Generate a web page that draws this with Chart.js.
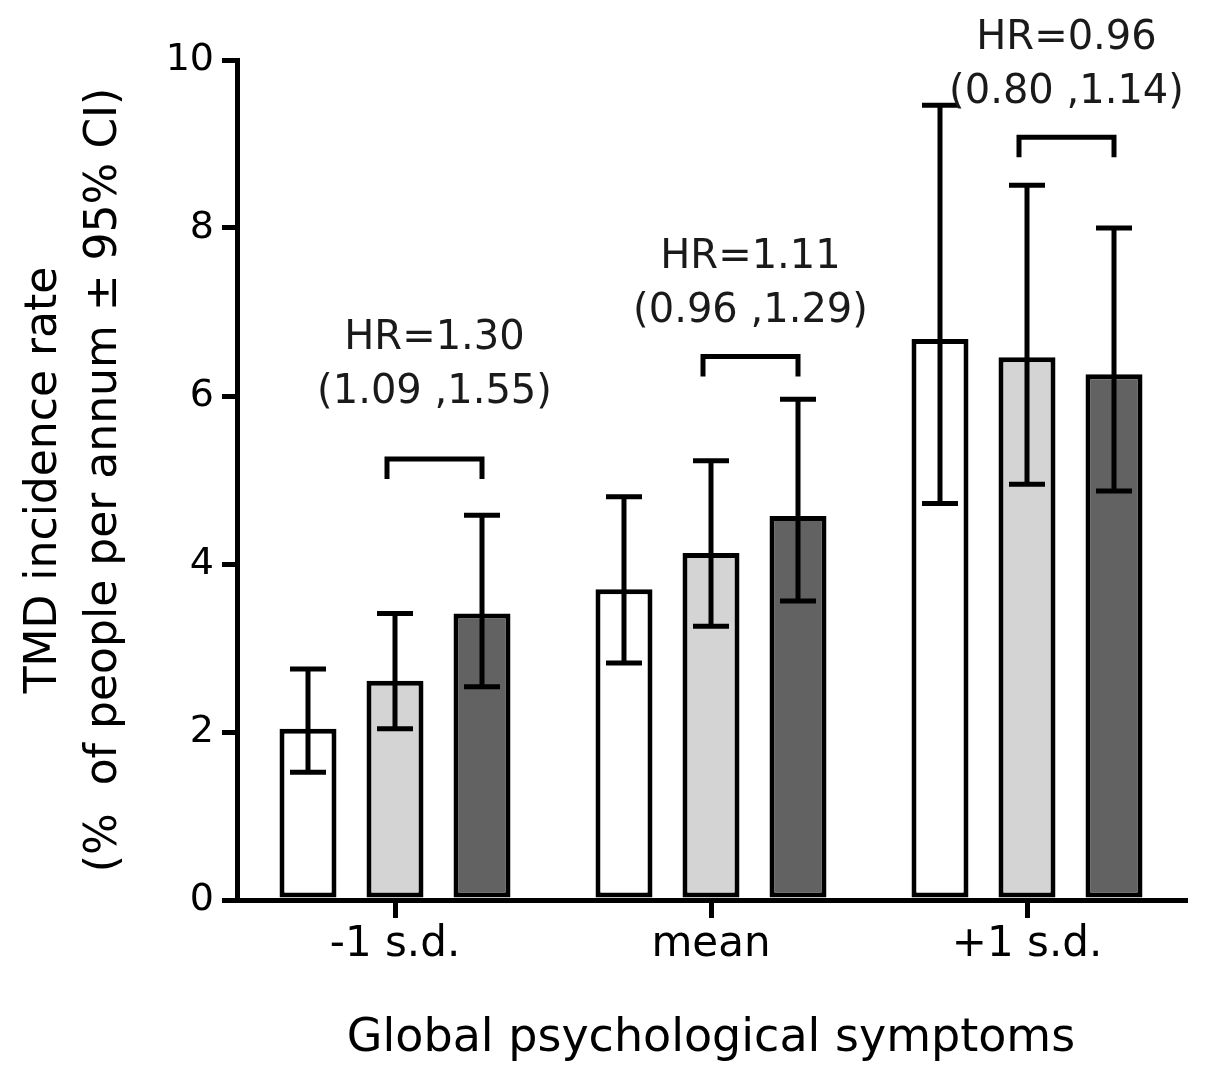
<!DOCTYPE html>
<html>
<head>
<meta charset="utf-8">
<script src="https://cdn.jsdelivr.net/npm/chart.js@4.4.1/dist/chart.umd.min.js"></script>
<style>
  body { margin: 0; background: #fff; }
  #wrap { width: 1206px; height: 1070px; }
</style>
</head>
<body>
<div id="wrap"><canvas id="incidence" width="1206" height="1070"></canvas></div>
<script>
// categories and tick labels
const groups = ['-1 s.d.', 'mean', '+1 s.d.'];
const yTicks = [0, 2, 4, 6, 8, 10];

// incidence rate per bar, with 95% CI
const rateOpen = [2.04, 3.70, 6.68];
const openLow = [1.52, 2.82, 4.72];
const openHigh = [2.75, 4.80, 9.46];

const rateLight = [2.61, 4.13, 6.46];
const lightLow = [2.04, 3.26, 4.95];
const lightHigh = [3.41, 5.23, 8.51];

const rateDark = [3.41, 4.57, 6.26];
const darkLow = [2.54, 3.56, 4.87];
const darkHigh = [4.58, 5.96, 8.00];

// hazard ratio annotations
const hrText = ['HR=1.30', 'HR=1.11', 'HR=0.96'];
const hrCI = ['(1.09 ,1.55)', '(0.96 ,1.29)', '(0.80 ,1.14)'];
const bracketAt = [5.25, 6.47, 9.08];

const ctxIncidence = document.getElementById('incidence');
const FONT = "'DejaVu Sans', sans-serif";

const errorBars = {
    id: 'errorBars',
    afterDatasetsDraw(chart) {
        const ctx = chart.ctx;
        const y = chart.scales.y;
        ctx.save();
        ctx.strokeStyle = '#000';
        ctx.lineWidth = 5;
        ctx.lineCap = 'butt';
        chart.data.datasets.forEach((ds, i) => {
            chart.getDatasetMeta(i).data.forEach((bar, j) => {
                const top = y.getPixelForValue(ds.ciHigh[j]);
                const bot = y.getPixelForValue(ds.ciLow[j]);
                ctx.beginPath();
                ctx.moveTo(bar.x, top);
                ctx.lineTo(bar.x, bot);
                ctx.moveTo(bar.x - 18, top);
                ctx.lineTo(bar.x + 18, top);
                ctx.moveTo(bar.x - 18, bot);
                ctx.lineTo(bar.x + 18, bot);
                ctx.stroke();
            });
        });
        ctx.restore();
    }
};

const hrLabels = {
    id: 'hrLabels',
    afterDatasetsDraw(chart) {
        const ctx = chart.ctx;
        const y = chart.scales.y;
        const light = chart.getDatasetMeta(1).data;
        const dark = chart.getDatasetMeta(2).data;
        const lift = [66, 45, 45];
        ctx.save();
        ctx.strokeStyle = '#000';
        ctx.lineWidth = 5;
        ctx.fillStyle = '#1a1a1a';
        ctx.textAlign = 'center';
        ctx.textBaseline = 'middle';
        ctx.font = '40px ' + FONT;
        groups.forEach((g, j) => {
            const x1 = light[j].x - 8;
            const x2 = dark[j].x;
            const by = y.getPixelForValue(bracketAt[j]);
            ctx.beginPath();
            ctx.moveTo(x1, by + 20);
            ctx.lineTo(x1, by);
            ctx.lineTo(x2, by);
            ctx.lineTo(x2, by + 20);
            ctx.stroke();
            const cx = (x1 + x2) / 2;
            ctx.fillText(hrCI[j], cx, by - lift[j]);
            ctx.fillText(hrText[j], cx, by - lift[j] - 54);
        });
        ctx.restore();
    }
};

new Chart(ctxIncidence, {
    type: 'bar',
    data: {
        labels: groups,
        datasets: [{
            data: rateOpen,
            ciLow: openLow,
            ciHigh: openHigh,
            backgroundColor: '#ffffff',
            borderColor: '#000',
            borderWidth: 5,
            borderSkipped: false
        }, {
            data: rateLight,
            ciLow: lightLow,
            ciHigh: lightHigh,
            backgroundColor: '#d4d4d4',
            borderColor: '#000',
            borderWidth: 5,
            borderSkipped: false
        }, {
            data: rateDark,
            ciLow: darkLow,
            ciHigh: darkHigh,
            backgroundColor: '#626262',
            borderColor: '#000',
            borderWidth: 5,
            borderSkipped: false
        }]
    },
    options: {
        responsive: false,
        animation: false,
        categoryPercentage: 0.826,
        barPercentage: 0.655,
        layout: { padding: { top: 60, right: 21, left: 0, bottom: 0 } },
        plugins: {
            legend: { display: false },
            tooltip: { enabled: false }
        },
        scales: {
            x: {
                afterFit: s => { s.height = 170; },
                border: { display: true, width: 5, color: '#000' },
                grid: {
                    offset: false,
                    drawOnChartArea: false,
                    tickLength: 18,
                    lineWidth: 5,
                    color: '#000'
                },
                ticks: {
                    padding: 2,
                    color: '#000',
                    font: { family: FONT, size: 42 }
                },
                title: {
                    display: true,
                    text: 'Global psychological symptoms',
                    color: '#000',
                    padding: { top: 0, bottom: 3 },
                    font: { family: FONT, size: 46 }
                }
            },
            y: {
                min: 0,
                max: 10,
                afterFit: s => { s.width = 237; },
                afterBuildTicks: s => { s.ticks = yTicks.map(v => ({ value: v })); },
                border: { display: true, width: 5, color: '#000' },
                grid: {
                    drawOnChartArea: false,
                    tickLength: 15,
                    lineWidth: 5,
                    color: '#000'
                },
                ticks: {
                    padding: 8,
                    color: '#000',
                    font: { family: FONT, size: 38 }
                },
                title: {
                    display: true,
                    text: ['TMD incidence rate', '(%  of people per annum \u00b1 95% CI)'],
                    color: '#000',
                    padding: { top: 15, bottom: 0 },
                    font: { family: FONT, size: 44, lineHeight: 60 / 44 }
                }
            }
        }
    },
    plugins: [errorBars, hrLabels]
});
</script>
</body>
</html>
